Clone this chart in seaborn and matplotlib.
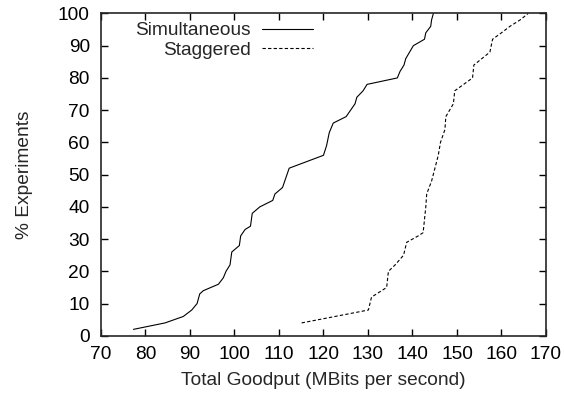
import pandas as pd
import matplotlib
matplotlib.use("Agg")
import matplotlib.pyplot as plt
import seaborn as sns

# --- Data ---
sim_goodput = [77.3, 84.4, 88.5, 90.4, 91.6, 92.2, 93.0, 96.4, 97.5, 98.1, 99.0,
               99.4, 101.1, 101.4, 102.4, 103.6, 104.0, 105.7, 108.6, 109.1,
               110.8, 112.3, 120.0, 120.7, 121.3, 122.2, 125.1, 127.1, 127.5,
               128.9, 129.8, 136.6, 137.2, 138.1, 138.5, 140.2, 142.7, 143.0,
               144.1, 144.3, 144.7]
sim_pct = [2, 4, 6, 8, 10, 13, 14, 16, 18, 20, 22, 26, 28, 31, 33, 34, 38, 40,
           42, 44, 46, 52, 56, 59, 63, 66, 68, 72, 74, 76, 78, 80, 82, 84, 86,
           90, 92, 94, 96, 98, 100]

stag_goodput = [115.1, 130.1, 130.8, 134.2, 134.6, 136.1, 138.0, 138.7, 141.3,
                142.4, 143.0, 143.2, 144.3, 145.8, 146.3, 147.3, 147.5, 149.2,
                149.5, 153.5, 153.8, 157.4, 158.0, 160.0, 161.9, 164.2, 166.0]
stag_pct = [4, 8, 12, 15, 20, 22, 25, 29, 31, 32, 40, 44, 48, 56, 60, 64, 68,
            72, 76, 80, 84, 88, 92, 94, 96, 98, 100]

x_ticks = list(range(70, 171, 10))
y_ticks = list(range(0, 101, 10))

df = pd.concat([
    pd.DataFrame({"goodput": sim_goodput, "pct": sim_pct, "run": "Simultaneous"}),
    pd.DataFrame({"goodput": stag_goodput, "pct": stag_pct, "run": "Staggered"}),
])

# --- Plot ---
sns.set_style("ticks")
plt.rcParams["font.family"] = ["Liberation Sans", "DejaVu Sans"]
fs = 13.8

fig = plt.figure(figsize=(5.64, 3.96), dpi=100)
ax = fig.add_axes([0.179, 0.152, 0.789, 0.814])

sns.lineplot(data=df, x="goodput", y="pct", hue="run", style="run",
             palette={"Simultaneous": "black", "Staggered": "black"},
             dashes={"Simultaneous": "", "Staggered": (3, 2)},
             sort=False, estimator=None, linewidth=0.8, ax=ax)

ax.set_xlim(70, 170)
ax.set_ylim(0, 100)
ax.set_xticks(x_ticks)
ax.set_yticks(y_ticks)
ax.tick_params(direction="in", length=5, width=1, labelsize=fs,
               top=True, right=True, colors="black")
ax.tick_params(axis="x", pad=7)
ax.tick_params(axis="y", pad=8)
for s in ax.spines.values():
    s.set_linewidth(1.2)
    s.set_visible(True)

ax.set_xlabel("Total Goodput (MBits per second)", fontsize=fs, labelpad=7)
ax.set_ylabel("% Experiments", fontsize=fs, labelpad=18)

ax.legend(loc="upper right", bbox_to_anchor=(0.476, 0.974), frameon=False,
          markerfirst=False, fontsize=fs, handlelength=2.65,
          handletextpad=0.6, labelspacing=0.1, borderaxespad=0, borderpad=0)

fig.savefig("out.png", dpi=100)
